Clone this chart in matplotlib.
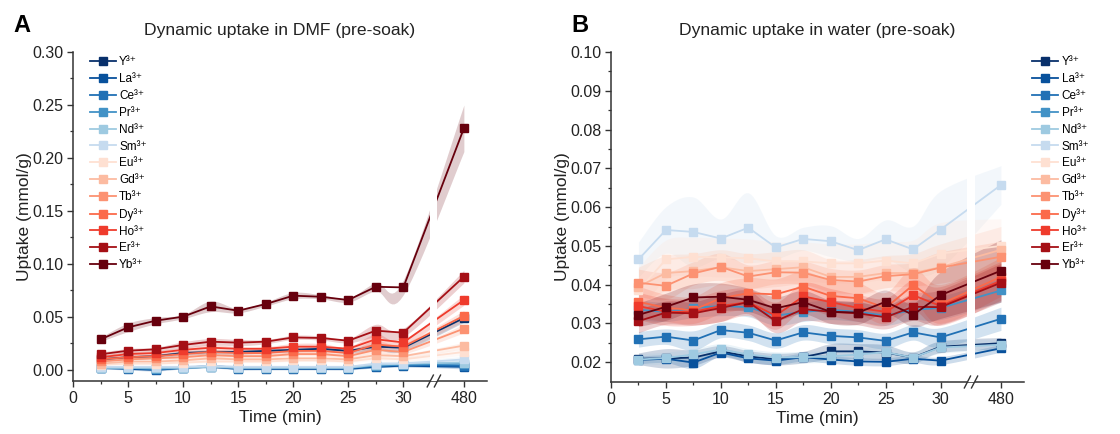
import numpy as np
import matplotlib
matplotlib.use("Agg")
import matplotlib.pyplot as plt
import matplotlib.transforms as mtransforms

plt.rcParams['font.family'] = ['Liberation Sans', 'DejaVu Sans']

# ----- Sampling times (min) -----
times = [2.5, 5, 7.5, 10, 12.5, 15, 17.5, 20, 22.5, 25, 27.5, 30, 480]
ions = ["Y", "La", "Ce", "Pr", "Nd", "Sm", "Eu", "Gd", "Tb", "Dy", "Ho", "Er", "Yb"]
colors = ["#08306b", "#08519c", "#2171b5", "#4292c6", "#9ecae1", "#c6dbef",
          "#fee0d2", "#fcbba1", "#fc9272", "#fb6a4a", "#ef3b2c", "#a50f15", "#67000d"]

# ----- Uptake in DMF (mmol/g) -----
dmf_Y  = [0.010, 0.012, 0.013, 0.016, 0.017, 0.017, 0.018, 0.019, 0.020, 0.018, 0.022, 0.021, 0.049]
dmf_La = [0.002, 0.001, 0.000, 0.002, 0.003, 0.001, 0.001, 0.001, 0.001, 0.001, 0.003, 0.004, 0.003]
dmf_Ce = [0.002, 0.002, 0.001, 0.002, 0.004, 0.002, 0.002, 0.002, 0.002, 0.002, 0.004, 0.005, 0.004]
dmf_Pr = [0.002, 0.002, 0.001, 0.002, 0.003, 0.002, 0.002, 0.002, 0.002, 0.002, 0.004, 0.005, 0.006]
dmf_Nd = [0.002, 0.002, 0.002, 0.002, 0.003, 0.002, 0.002, 0.002, 0.002, 0.002, 0.005, 0.006, 0.007]
dmf_Sm = [0.003, 0.003, 0.003, 0.003, 0.004, 0.003, 0.003, 0.003, 0.003, 0.003, 0.006, 0.006, 0.010]
dmf_Eu = [0.005, 0.006, 0.006, 0.007, 0.008, 0.008, 0.008, 0.009, 0.009, 0.008, 0.011, 0.010, 0.017]
dmf_Gd = [0.006, 0.008, 0.008, 0.009, 0.011, 0.010, 0.010, 0.011, 0.011, 0.010, 0.014, 0.013, 0.023]
dmf_Tb = [0.008, 0.010, 0.011, 0.012, 0.014, 0.013, 0.013, 0.015, 0.015, 0.013, 0.019, 0.017, 0.039]
dmf_Dy = [0.010, 0.012, 0.013, 0.015, 0.017, 0.016, 0.016, 0.018, 0.018, 0.016, 0.024, 0.022, 0.051]
dmf_Ho = [0.012, 0.015, 0.016, 0.019, 0.021, 0.020, 0.020, 0.022, 0.022, 0.020, 0.029, 0.026, 0.066]
dmf_Er = [0.0148, 0.0182, 0.0195, 0.0236, 0.0267, 0.0258, 0.0267, 0.0307, 0.0302, 0.0276, 0.0371, 0.0352, 0.088]
dmf_Yb = [0.0289, 0.0402, 0.0465, 0.0503, 0.0600, 0.0559, 0.0622, 0.0701, 0.0691, 0.0660, 0.0785, 0.0779, 0.228]

# ----- Standard deviation, DMF -----
dmf_Y_sd  = [0.002, 0.002, 0.002, 0.002, 0.002, 0.002, 0.002, 0.002, 0.002, 0.002, 0.003, 0.003, 0.004]
dmf_La_sd = [0.001, 0.001, 0.001, 0.001, 0.001, 0.001, 0.001, 0.001, 0.001, 0.001, 0.001, 0.001, 0.002]
dmf_Ce_sd = [0.001, 0.001, 0.001, 0.001, 0.001, 0.001, 0.001, 0.001, 0.001, 0.001, 0.002, 0.002, 0.002]
dmf_Pr_sd = [0.001, 0.001, 0.001, 0.001, 0.001, 0.001, 0.001, 0.001, 0.001, 0.001, 0.002, 0.002, 0.002]
dmf_Nd_sd = [0.001, 0.001, 0.001, 0.001, 0.001, 0.001, 0.001, 0.001, 0.001, 0.001, 0.002, 0.002, 0.003]
dmf_Sm_sd = [0.001, 0.001, 0.001, 0.001, 0.001, 0.001, 0.001, 0.001, 0.001, 0.001, 0.002, 0.002, 0.003]
dmf_Eu_sd = [0.001, 0.001, 0.001, 0.001, 0.001, 0.001, 0.001, 0.001, 0.001, 0.001, 0.002, 0.002, 0.003]
dmf_Gd_sd = [0.001, 0.001, 0.001, 0.001, 0.002, 0.001, 0.001, 0.001, 0.001, 0.001, 0.002, 0.002, 0.003]
dmf_Tb_sd = [0.001, 0.001, 0.001, 0.002, 0.002, 0.002, 0.002, 0.002, 0.002, 0.002, 0.003, 0.002, 0.004]
dmf_Dy_sd = [0.002, 0.002, 0.002, 0.002, 0.002, 0.002, 0.002, 0.002, 0.002, 0.002, 0.004, 0.003, 0.005]
dmf_Ho_sd = [0.002, 0.002, 0.002, 0.002, 0.003, 0.002, 0.002, 0.003, 0.003, 0.002, 0.005, 0.003, 0.005]
dmf_Er_sd = [0.002, 0.002, 0.002, 0.003, 0.003, 0.003, 0.002, 0.002, 0.002, 0.002, 0.006, 0.004, 0.006]
dmf_Yb_sd = [0.002, 0.004, 0.003, 0.002, 0.005, 0.002, 0.002, 0.003, 0.002, 0.002, 0.004, 0.007, 0.022]

# ----- Uptake in water (mmol/g) -----
wat_Y  = [0.0209, 0.0210, 0.0212, 0.0228, 0.0215, 0.0208, 0.0213, 0.0228, 0.0228, 0.0225, 0.0212, 0.0240, 0.0249]
wat_La = [0.0206, 0.0209, 0.0199, 0.0225, 0.0210, 0.0204, 0.0213, 0.0207, 0.0202, 0.0201, 0.0209, 0.0204, 0.0236]
wat_Ce = [0.0259, 0.0266, 0.0256, 0.0283, 0.0276, 0.0256, 0.0277, 0.0268, 0.0264, 0.0255, 0.0277, 0.0264, 0.0312]
wat_Pr = [0.0335, 0.0330, 0.0340, 0.0345, 0.0342, 0.0320, 0.0330, 0.0335, 0.0330, 0.0320, 0.0335, 0.0340, 0.0385]
wat_Nd = [0.0207, 0.0211, 0.0220, 0.0233, 0.0220, 0.0212, 0.0213, 0.0215, 0.0220, 0.0226, 0.0212, 0.0238, 0.0245]
wat_Sm = [0.0465, 0.0541, 0.0536, 0.0519, 0.0547, 0.0496, 0.0518, 0.0512, 0.0489, 0.0517, 0.0491, 0.0542, 0.0657]
wat_Eu = [0.0385, 0.0465, 0.0472, 0.0470, 0.0468, 0.0460, 0.0460, 0.0455, 0.0455, 0.0462, 0.0455, 0.0480, 0.0500]
wat_Gd = [0.0395, 0.0430, 0.0435, 0.0445, 0.0435, 0.0440, 0.0445, 0.0420, 0.0420, 0.0430, 0.0430, 0.0445, 0.0490]
wat_Tb = [0.0405, 0.0397, 0.0429, 0.0446, 0.0421, 0.0432, 0.0431, 0.0412, 0.0408, 0.0422, 0.0427, 0.0444, 0.0472]
wat_Dy = [0.0356, 0.0340, 0.0335, 0.0365, 0.0378, 0.0375, 0.0395, 0.0371, 0.0365, 0.0340, 0.0399, 0.0350, 0.0420]
wat_Ho = [0.0345, 0.0330, 0.0330, 0.0345, 0.0355, 0.0320, 0.0370, 0.0355, 0.0340, 0.0330, 0.0373, 0.0345, 0.0410]
wat_Er = [0.0306, 0.0328, 0.0326, 0.0340, 0.0355, 0.0306, 0.0337, 0.0330, 0.0326, 0.0316, 0.0343, 0.0342, 0.0405]
wat_Yb = [0.0322, 0.0343, 0.0367, 0.0369, 0.0361, 0.0339, 0.0355, 0.0330, 0.0328, 0.0356, 0.0322, 0.0373, 0.0436]

# ----- Standard deviation, water -----
wat_Y_sd  = [0.0015, 0.0025, 0.0020, 0.0015, 0.0015, 0.0015, 0.0015, 0.0020, 0.0020, 0.0020, 0.0015, 0.0015, 0.0015]
wat_La_sd = [0.0010, 0.0010, 0.0015, 0.0010, 0.0010, 0.0010, 0.0010, 0.0010, 0.0010, 0.0010, 0.0010, 0.0010, 0.0010]
wat_Ce_sd = [0.0020, 0.0020, 0.0025, 0.0020, 0.0020, 0.0020, 0.0020, 0.0020, 0.0020, 0.0020, 0.0020, 0.0025, 0.0030]
wat_Pr_sd = [0.0025, 0.0025, 0.0025, 0.0025, 0.0025, 0.0025, 0.0025, 0.0025, 0.0025, 0.0025, 0.0025, 0.0030, 0.0030]
wat_Nd_sd = [0.0015, 0.0015, 0.0015, 0.0015, 0.0015, 0.0015, 0.0015, 0.0015, 0.0015, 0.0015, 0.0015, 0.0015, 0.0015]
wat_Sm_sd = [0.0045, 0.0060, 0.0090, 0.0050, 0.0090, 0.0030, 0.0030, 0.0040, 0.0030, 0.0050, 0.0060, 0.0100, 0.0050]
wat_Eu_sd = [0.0060, 0.0050, 0.0050, 0.0050, 0.0050, 0.0050, 0.0050, 0.0050, 0.0050, 0.0050, 0.0060, 0.0080, 0.0070]
wat_Gd_sd = [0.0050, 0.0045, 0.0045, 0.0045, 0.0045, 0.0045, 0.0045, 0.0045, 0.0045, 0.0045, 0.0050, 0.0060, 0.0060]
wat_Tb_sd = [0.0035, 0.0035, 0.0030, 0.0035, 0.0030, 0.0030, 0.0030, 0.0030, 0.0030, 0.0030, 0.0030, 0.0040, 0.0040]
wat_Dy_sd = [0.0040, 0.0035, 0.0035, 0.0040, 0.0040, 0.0040, 0.0040, 0.0040, 0.0040, 0.0040, 0.0045, 0.0050, 0.0050]
wat_Ho_sd = [0.0035, 0.0035, 0.0035, 0.0040, 0.0035, 0.0035, 0.0035, 0.0035, 0.0035, 0.0035, 0.0040, 0.0050, 0.0050]
wat_Er_sd = [0.0030, 0.0030, 0.0030, 0.0035, 0.0030, 0.0030, 0.0030, 0.0030, 0.0030, 0.0030, 0.0035, 0.0045, 0.0050]
wat_Yb_sd = [0.0030, 0.0035, 0.0035, 0.0035, 0.0030, 0.0030, 0.0030, 0.0030, 0.0030, 0.0030, 0.0030, 0.0060, 0.0080]

dmf = [dmf_Y, dmf_La, dmf_Ce, dmf_Pr, dmf_Nd, dmf_Sm, dmf_Eu, dmf_Gd, dmf_Tb, dmf_Dy, dmf_Ho, dmf_Er, dmf_Yb]
dmf_sd = [dmf_Y_sd, dmf_La_sd, dmf_Ce_sd, dmf_Pr_sd, dmf_Nd_sd, dmf_Sm_sd, dmf_Eu_sd, dmf_Gd_sd,
          dmf_Tb_sd, dmf_Dy_sd, dmf_Ho_sd, dmf_Er_sd, dmf_Yb_sd]
wat = [wat_Y, wat_La, wat_Ce, wat_Pr, wat_Nd, wat_Sm, wat_Eu, wat_Gd, wat_Tb, wat_Dy, wat_Ho, wat_Er, wat_Yb]
wat_sd = [wat_Y_sd, wat_La_sd, wat_Ce_sd, wat_Pr_sd, wat_Nd_sd, wat_Sm_sd, wat_Eu_sd, wat_Gd_sd,
          wat_Tb_sd, wat_Dy_sd, wat_Ho_sd, wat_Er_sd, wat_Yb_sd]

# broken x axis: 480 min is placed right after the break
X_480 = 35.5
BREAK = (32.45, 33.1)


def to_axis(t):
    return np.array([X_480 if v == 480 else v for v in t], dtype=float)


def smooth(x, y, n=12):
    # Catmull-Rom curve through the points, used for the shaded bands
    px = np.concatenate([[x[0]], x, [x[-1]]])
    py = np.concatenate([[y[0]], y, [y[-1]]])
    xs, ys = [], []
    s = np.linspace(0, 1, n, endpoint=False)
    for i in range(1, len(px) - 2):
        for arr, out in ((px, xs), (py, ys)):
            p0, p1, p2, p3 = arr[i - 1], arr[i], arr[i + 1], arr[i + 2]
            out.extend(0.5 * (2 * p1 + (-p0 + p2) * s + (2 * p0 - 5 * p1 + 4 * p2 - p3) * s ** 2
                              + (-p0 + 3 * p1 - 3 * p2 + p3) * s ** 3))
    xs.append(x[-1]); ys.append(y[-1])
    return np.array(xs), np.array(ys)


def draw_panel(ax, data, sd, ylim, yticks, yminor, title, legend_kw):
    x = to_axis(times)
    for vals, err, c in zip(data, sd, colors):
        vals = np.array(vals); err = np.array(err)
        sx, lo = smooth(x, vals - err)
        _, hi = smooth(x, vals + err)
        ax.fill_between(sx, lo, hi, color=c, alpha=0.2, lw=0, zorder=1)
    for vals, c, name in zip(data, colors, ions):
        ax.plot(x, vals, color=c, lw=1.3, marker="s", ms=5.5, zorder=2,
                label=name + "\u00b3\u207a")

    # white gap through the data at the axis break
    ax.axvspan(BREAK[0], BREAK[1], color="white", lw=0, zorder=3)
    trans = mtransforms.blended_transform_factory(ax.transData, ax.transAxes)
    for xb in BREAK:
        ax.plot([xb - 0.28, xb + 0.28], [-0.018, 0.018], color="#333333", lw=1.0,
                transform=trans, clip_on=False, zorder=4)

    ax.set_xlim(0, 37.6)
    ax.set_ylim(*ylim)
    ax.set_xticks([0, 5, 10, 15, 20, 25, 30, X_480])
    ax.set_xticklabels(["0", "5", "10", "15", "20", "25", "30", "480"])
    ax.set_xticks([2.5, 7.5, 12.5, 17.5, 22.5, 27.5], minor=True)
    ax.set_yticks(yticks)
    ax.set_yticklabels([f"{v:.2f}" for v in yticks])
    ax.set_yticks(yminor, minor=True)
    ax.tick_params(which="major", direction="out", length=4, width=1.0, color="#333333",
                   labelsize=11.5, labelcolor="#222222", pad=3)
    ax.tick_params(which="minor", direction="out", length=2.5, width=0.9, color="#333333")
    for side in ("top", "right"):
        ax.spines[side].set_visible(False)
    for side in ("left", "bottom"):
        ax.spines[side].set_linewidth(1.1)
        ax.spines[side].set_color("#333333")

    ax.set_title(title, fontsize=12.6, color="#222222", pad=12)
    ax.set_xlabel("Time (min)", fontsize=12.5, color="#222222", labelpad=3)
    ax.set_ylabel("Uptake (mmol/g)", fontsize=12.5, color="#222222", labelpad=0)
    ax.legend(frameon=False, fontsize=8.5, handlelength=2.2, handletextpad=0.3,
              labelspacing=0.41, borderpad=0.2, **legend_kw)


fig = plt.figure(figsize=(11.2, 4.34), dpi=100)
ax_a = fig.add_axes([73 / 1120, 53 / 434, 414 / 1120, 329 / 434])
ax_b = fig.add_axes([611 / 1120, 52 / 434, 413 / 1120, 330 / 434])

draw_panel(ax_a, dmf, dmf_sd, (-0.0104, 0.30),
           [0.00, 0.05, 0.10, 0.15, 0.20, 0.25, 0.30],
           [0.025, 0.075, 0.125, 0.175, 0.225, 0.275],
           "Dynamic uptake in DMF (pre-soak)",
           dict(loc="upper left", bbox_to_anchor=(0.02, 1.012)))
draw_panel(ax_b, wat, wat_sd, (0.0149, 0.10),
           [0.02, 0.03, 0.04, 0.05, 0.06, 0.07, 0.08, 0.09, 0.10],
           [0.025, 0.035, 0.045, 0.055, 0.065, 0.075, 0.085, 0.095],
           "Dynamic uptake in water (pre-soak)",
           dict(loc="upper left", bbox_to_anchor=(1.0, 1.012)))

fig.text(22 / 1120, 1 - 25 / 434, "A", fontsize=17, fontweight="bold", ha="center", va="center")
fig.text(580 / 1120, 1 - 25 / 434, "B", fontsize=17, fontweight="bold", ha="center", va="center")

fig.savefig("out.png", dpi=100)
